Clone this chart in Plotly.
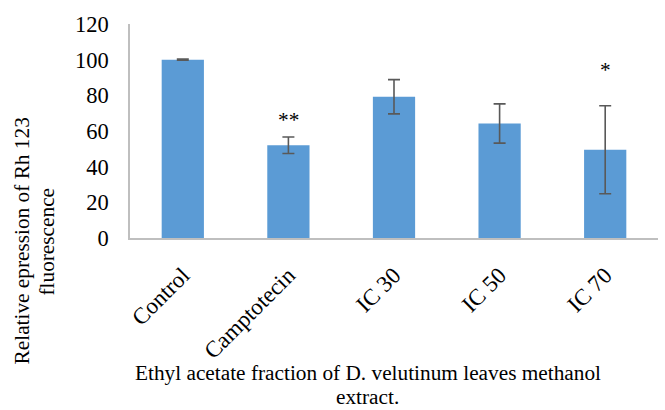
import plotly.graph_objects as go

categories = ["Control", "Camptotecin", "IC 30", "IC 50", "IC 70"]
values = [100, 52, 79.2, 64.2, 49.5]
errors = [0.3, 4.6, 9.6, 11, 24.7]
sig_labels = ["", "**", "", "", "*"]
sig_y = [0, 66, 0, 0, 94]

FONT = "Liberation Serif"
FS = 21.3
TFS = 23

fig = go.Figure()
fig.add_trace(go.Bar(
    x=categories, y=values,
    marker=dict(color="#5B9BD5", line=dict(width=0)),
    error_y=dict(type="data", array=errors, visible=True,
                 color="#595959", thickness=1.6, width=6),
))

for c, s, yy in zip(categories, sig_labels, sig_y):
    if s:
        fig.add_annotation(x=c, y=yy, text=s, showarrow=False,
                           font=dict(family=FONT, size=FS, color="#000000"),
                           xanchor="center", yanchor="middle")

# y-axis title (two lines)
for xx, txt in [(-0.2045, "Relative epression of Rh 123"), (-0.157, "fluorescence")]:
    fig.add_annotation(xref="paper", yref="paper", x=xx, y=-0.016,
                       text=txt, textangle=-90, showarrow=False,
                       font=dict(family=FONT, size=FS, color="#000000"),
                       xanchor="center", yanchor="middle")

# x-axis title (two lines)
for yy, txt in [(-0.631, "Ethyl acetate fraction of D. velutinum leaves methanol"), (-0.745, "extract.")]:
    fig.add_annotation(xref="paper", yref="paper", x=0.45, y=yy,
                       text=txt, showarrow=False,
                       font=dict(family=FONT, size=FS, color="#000000"),
                       xanchor="center", yanchor="middle")

fig.update_layout(
    width=665, height=410,
    margin=dict(l=130, r=7, t=24, b=172),
    paper_bgcolor="white", plot_bgcolor="white",
    bargap=0.6, showlegend=False,
    font=dict(family=FONT, size=FS, color="#000000"),
)
fig.update_xaxes(showline=True, linecolor="#BFBFBF", linewidth=1.5,
                 tickangle=-45, showgrid=False, ticks="",
                 ticklabelstandoff=13,
                 tickfont=dict(family=FONT, size=TFS, color="#000000"))
fig.update_yaxes(range=[0, 120], dtick=20, showline=True, linecolor="#BFBFBF",
                 linewidth=1.5, showgrid=False, ticks="", zeroline=False,
                 ticklabelstandoff=15,
                 tickfont=dict(family=FONT, size=22.5, color="#000000"))

fig.write_html("out.html")
